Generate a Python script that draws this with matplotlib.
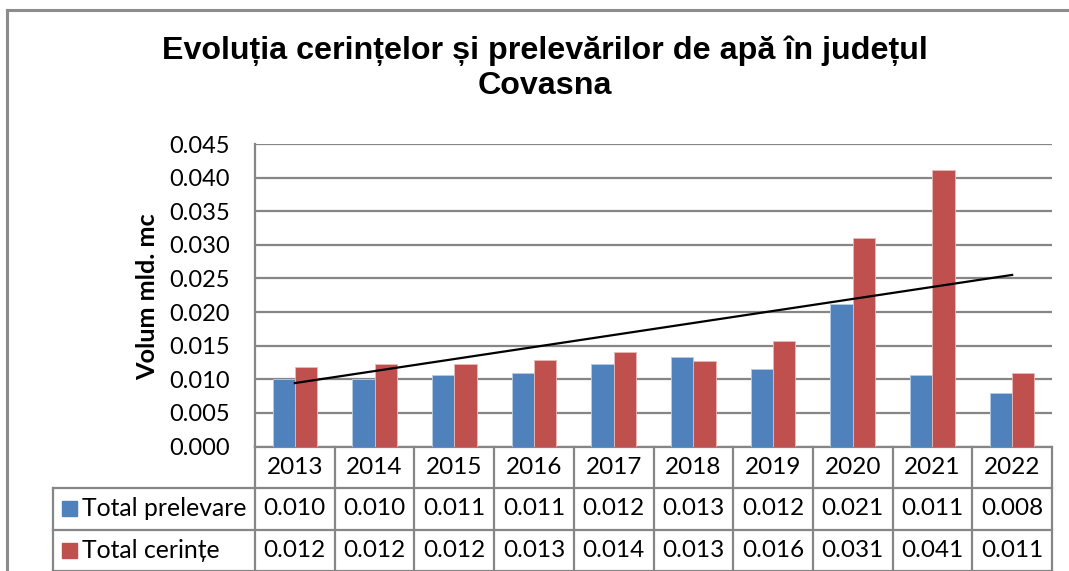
import numpy as np
import matplotlib
matplotlib.use("Agg")
import matplotlib.pyplot as plt
from matplotlib.lines import Line2D
from matplotlib.patches import Rectangle
import matplotlib.transforms as mtransforms

years = ["2013", "2014", "2015", "2016", "2017", "2018", "2019", "2020", "2021", "2022"]
prelevare = [0.0100, 0.0101, 0.0106, 0.0109, 0.0122, 0.0133, 0.0116, 0.0212, 0.0106, 0.0079]
cerinte = [0.0118, 0.0123, 0.0123, 0.0128, 0.0141, 0.0127, 0.0157, 0.0310, 0.0412, 0.0109]
series_names = ["Total prelevare", "Total cerințe"]
yticks = [0.000, 0.005, 0.010, 0.015, 0.020, 0.025, 0.030, 0.035, 0.040, 0.045]

blue = "#4F81BD"
red = "#C0504D"
grid_c = "#868686"
body_font = "Lato"

W, H = 1069, 571
fig = plt.figure(figsize=(W / 100, H / 100), dpi=100)
fig.patch.set_facecolor("white")

# outer chart frame (only top and left visible in the crop)
fig.add_artist(Line2D([7 / W, 7 / W], [0, 1 - 9.5 / H], color="#8c8c8c", lw=2.2))
fig.add_artist(Line2D([7 / W, 1.01], [1 - 9.5 / H, 1 - 9.5 / H], color="#8c8c8c", lw=2.2))

left, right, top, bottom = 255, 1052, 144, 446.5
ax = fig.add_axes([left / W, 1 - bottom / H, (right - left) / W, (bottom - top) / H])

x = np.arange(len(years))
bw = 0.28
ax.bar(x - bw / 2, prelevare, bw, color=blue, edgecolor="#b8cce4", linewidth=0.6, zorder=3)
ax.bar(x + bw / 2, cerinte, bw, color=red, edgecolor="#e6b9b8", linewidth=0.6, zorder=3)

# linear trend of Total cerinte
k, b = np.polyfit(x, cerinte, 1)
ax.plot(x, k * x + b, color="black", lw=1.6, zorder=4)

ax.set_xlim(-0.5, len(years) - 0.5)
ax.set_ylim(0, 0.045)
ax.set_yticks(yticks)
ax.set_yticklabels([f"{v:.3f}" for v in yticks], fontsize=17, fontfamily=body_font)
ax.tick_params(axis="y", length=0, pad=18)
ax.set_xticks([])
ax.yaxis.grid(True, color=grid_c, lw=1.6, zorder=0)
ax.set_axisbelow(True)
for s in ["top", "right"]:
    ax.spines[s].set_visible(False)
ax.spines["left"].set_color(grid_c)
ax.spines["left"].set_linewidth(1.6)
ax.spines["bottom"].set_color(grid_c)
ax.spines["bottom"].set_linewidth(1.6)

ph = bottom - top
ax.set_ylabel("Volum mld. mc", fontsize=18.2, fontweight="bold", fontfamily=body_font)
ax.yaxis.set_label_coords((159 - left) / (right - left), (bottom - 297) / ph)

# data table under the axes
rows_y = [0, -(488 - bottom) / ph, -(529.5 - bottom) / ph, -(571 - bottom) / ph]
leg_x = (53 - left) / (right - left)
tc = dict(color=grid_c, lw=1.6, clip_on=False)
tr = ax.transAxes
bt = mtransforms.blended_transform_factory(ax.transData, tr)
ax.plot([1, 1], [rows_y[0], rows_y[3]], transform=tr, **tc)
ax.plot([0, 0], [rows_y[0], rows_y[3]], transform=tr, **tc)
ax.plot([leg_x, leg_x], [rows_y[1], rows_y[3]], transform=tr, **tc)
ax.plot([leg_x, 1], [rows_y[1], rows_y[1]], transform=tr, **tc)
ax.plot([leg_x, 1], [rows_y[2], rows_y[2]], transform=tr, **tc)
ax.plot([leg_x, 1], [rows_y[3], rows_y[3]], transform=tr, **tc)
for i in range(1, len(years)):
    ax.plot([i - 0.5, i - 0.5], [rows_y[0], rows_y[3]], transform=bt, **tc)

for i, yr in enumerate(years):
    ymid = (rows_y[0] + rows_y[1]) / 2
    ax.text(i, ymid, yr, transform=bt, ha="center", va="center", fontsize=17.5, fontfamily=body_font)
    for r, vals in enumerate([prelevare, cerinte]):
        ymid = (rows_y[r + 1] + rows_y[r + 2]) / 2
        ax.text(i, ymid, f"{vals[i]:.3f}", transform=bt, ha="center", va="center",
                fontsize=17.5, fontfamily=body_font)

sq = 15 / (right - left)
for r, (name, col) in enumerate(zip(series_names, [blue, red])):
    ymid = (rows_y[r + 1] + rows_y[r + 2]) / 2
    ax.add_patch(Rectangle((leg_x + 9 / (right - left), ymid - 7.5 / ph), sq, 15 / ph,
                           transform=tr, color=col, clip_on=False))
    ax.text(leg_x + 29 / (right - left), ymid, name, transform=tr, ha="left", va="center",
            fontsize=17.8, fontfamily=body_font)

fig.text(545 / W, 1 - 68 / H, "Evoluția cerințelor și prelevărilor de apă în județul\nCovasna",
         ha="center", va="center", fontsize=23.2, fontweight="bold",
         fontfamily="Liberation Sans", linespacing=1.2)

fig.savefig("out.png", dpi=100)
